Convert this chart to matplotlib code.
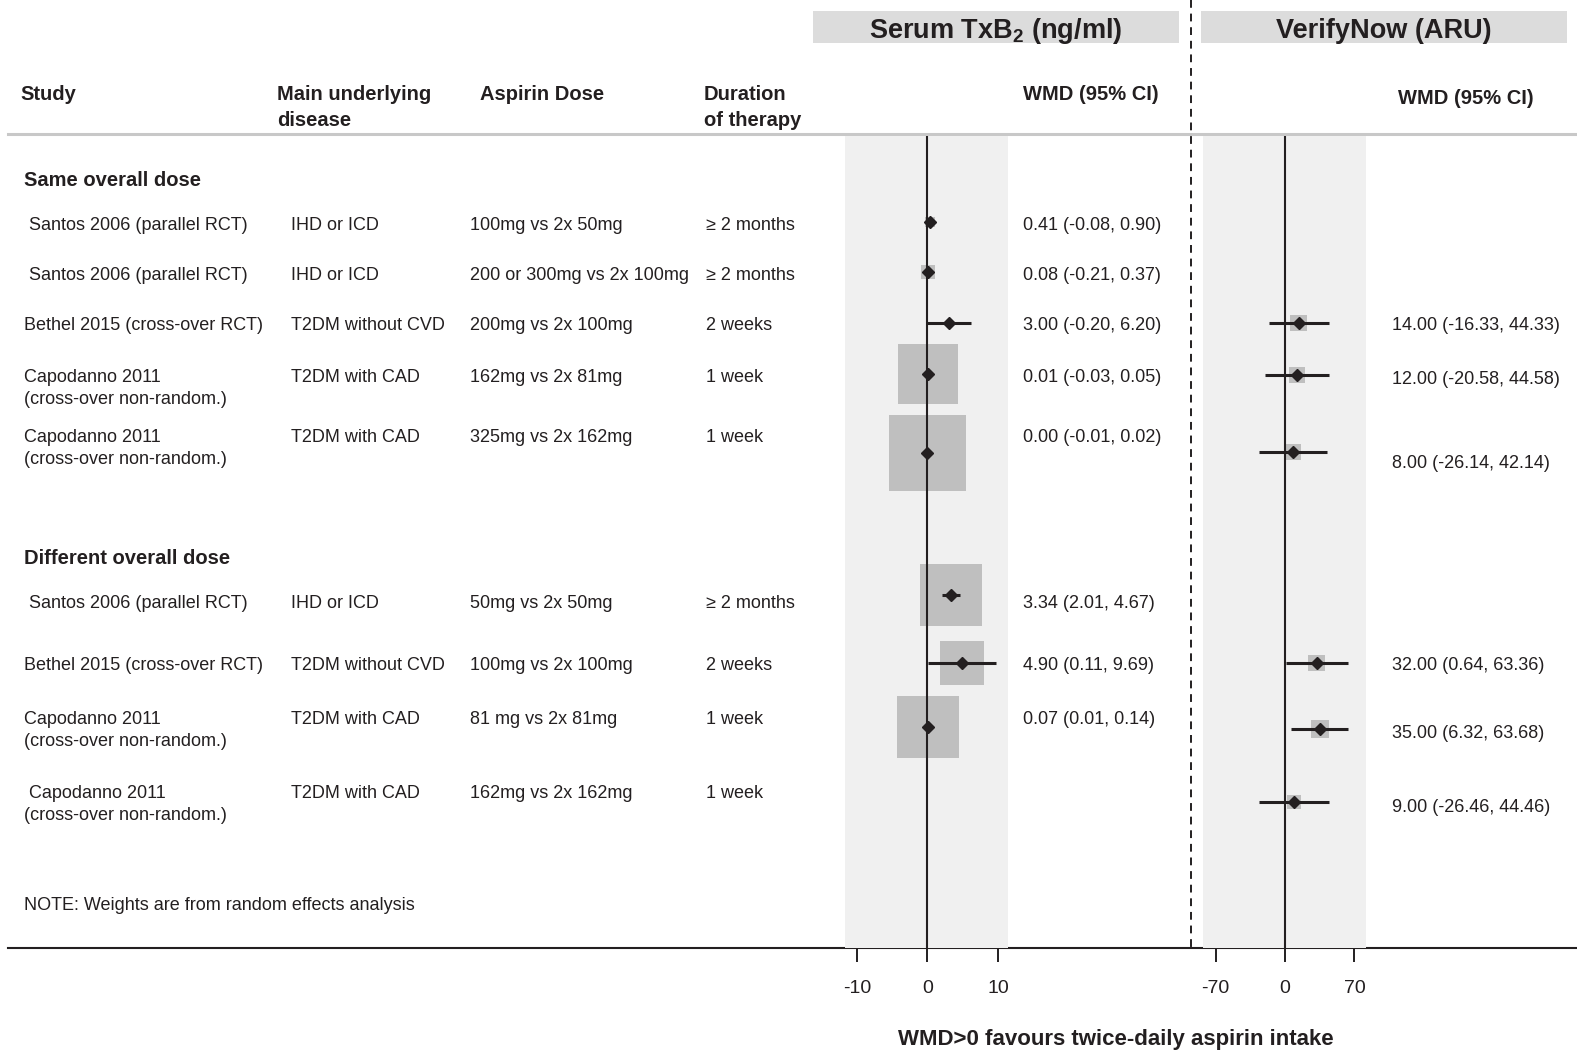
import numpy as np
import matplotlib.pyplot as plt
from matplotlib.patches import Rectangle

plt.rcParams['font.family'] = ['Liberation Sans', 'DejaVu Sans']
plt.rcParams['mathtext.fontset'] = 'custom'
plt.rcParams['mathtext.rm'] = 'Liberation Sans'
plt.rcParams['mathtext.bf'] = 'Liberation Sans:bold'

nan = np.nan

# table columns (9 comparisons: 5 same overall dose, 4 different overall dose)
studies = [" Santos 2006 (parallel RCT)", " Santos 2006 (parallel RCT)",
           "Bethel 2015 (cross-over RCT)",
           "Capodanno 2011\n(cross-over non-random.)", "Capodanno 2011\n(cross-over non-random.)",
           " Santos 2006 (parallel RCT)", "Bethel 2015 (cross-over RCT)",
           "Capodanno 2011\n(cross-over non-random.)", " Capodanno 2011\n(cross-over non-random.)"]
diseases = ["IHD or ICD", "IHD or ICD", "T2DM without CVD", "T2DM with CAD", "T2DM with CAD",
            "IHD or ICD", "T2DM without CVD", "T2DM with CAD", "T2DM with CAD"]
doses = ["100mg vs 2x 50mg", "200 or 300mg vs 2x 100mg", "200mg vs 2x 100mg",
         "162mg vs 2x 81mg", "325mg vs 2x 162mg",
         "50mg vs 2x 50mg", "100mg vs 2x 100mg", "81 mg vs 2x 81mg", "162mg vs 2x 162mg"]
durations = ["≥ 2 months", "≥ 2 months", "2 weeks", "1 week", "1 week",
             "≥ 2 months", "2 weeks", "1 week", "1 week"]
groups = ["Same overall dose", "Different overall dose"]

# serum TxB2 (ng/ml)
txb_wmd = np.array([0.41, 0.08, 3.00, 0.01, 0.00, 3.34, 4.90, 0.07, nan])
txb_lo = np.array([-0.08, -0.21, -0.20, -0.03, -0.01, 2.01, 0.11, 0.01, nan])
txb_hi = np.array([0.90, 0.37, 6.20, 0.05, 0.02, 4.67, 9.69, 0.14, nan])
txb_weight = np.array([1.0, 2.0, 0.1, 36.6, 60.3, 39.1, 20.6, 40.3, nan])

# VerifyNow (ARU)
aru_wmd = np.array([nan, nan, 14.00, 12.00, 8.00, nan, 32.00, 35.00, 9.00])
aru_lo = np.array([nan, nan, -16.33, -20.58, -26.14, nan, 0.64, 6.32, -26.46])
aru_hi = np.array([nan, nan, 44.33, 44.58, 42.14, nan, 63.36, 63.68, 44.46])
aru_weight = np.array([nan, nan, 36.0, 32.0, 32.0, nan, 34.5, 38.7, 26.8])

# ---- layout (pixel coordinates, y downwards) ----
W, H = 1577, 1050
INK = '#231f20'
BODY, HEAD, TITLE = 13, 14.5, 19.5
DY = 3  # va='center' sits a little high, nudge text down
row_y = np.array([222, 272, 323, 375, 435, 600, 663, 716, 791])
group_y = [177, 556]
LINE = 22
txb_mark_y = np.array([222, 272, 323, 374, 453, 595, 663, 727, nan])
txb_text_y = np.array([222, 272, 323, 375, 435, 600, 663, 716, nan])
aru_mark_y = np.array([nan, nan, 323, 375, 452, nan, 663, 729, 802])
aru_text_y = np.array([nan, nan, 323, 377, 460, nan, 663, 731, 804])
TOP, BOTTOM = 136, 948

fig = plt.figure(figsize=(W / 100, H / 100), dpi=100)
bg = fig.add_axes([0, 0, 1, 1])
bg.set_xlim(0, W)
bg.set_ylim(H, 0)
bg.axis('off')


def px_axes(x0, x1):
    return fig.add_axes([x0 / W, 1 - BOTTOM / H, (x1 - x0) / W, (BOTTOM - TOP) / H])


def put(x, y, s, size=BODY, bold=False, ha='left'):
    for i, line in enumerate(s.split('\n')):
        bg.text(x, y + i * LINE + DY, line, fontsize=size, ha=ha, va='center', color=INK,
                fontweight='bold' if bold else 'normal')


# header boxes and titles
bg.add_patch(Rectangle((813, 11), 366, 32, color='#dcdcdc', lw=0))
bg.add_patch(Rectangle((1201, 11), 366, 32, color='#dcdcdc', lw=0))
bg.text(996, 28 + DY, r"Serum TxB$_{\mathbf{2}}$ (ng/ml)", fontsize=TITLE, fontweight='bold',
        ha='center', va='center', color=INK)
bg.text(1384, 28 + DY, "VerifyNow (ARU)", fontsize=TITLE, fontweight='bold',
        ha='center', va='center', color=INK)

# column headers
put(20, 92, "Study", HEAD, True)
put(277, 92, "Main underlying", HEAD, True)
put(277, 117, "disease", HEAD, True)
put(480, 92, "Aspirin Dose", HEAD, True)
put(704, 92, "Duration", HEAD, True)
put(704, 117, "of therapy", HEAD, True)
put(1159, 92, "WMD (95% CI)", HEAD, True, ha='right')
put(1534, 95, "WMD (95% CI)", HEAD, True, ha='right')

bg.plot([8, W], [134, 134], color='#c8c8c8', lw=2.2)
bg.plot([8, W], [BOTTOM, BOTTOM], color=INK, lw=1.5)
bg.plot([1191, 1191], [0, BOTTOM], color=INK, lw=1.4, ls=(0, (4, 3)))

# table rows
for gy, g in zip(group_y, groups):
    put(24, gy, g, HEAD, True)
for i in range(len(studies)):
    put(24, row_y[i], studies[i])
    put(291, row_y[i], diseases[i])
    put(470, row_y[i], doses[i])
    put(706, row_y[i], durations[i])
put(24, 902, "NOTE: Weights are from random effects analysis")
bg.text(1116, 1036 + DY, "WMD>0 favours twice-daily aspirin intake", fontsize=16,
        fontweight='bold', ha='center', va='center', color=INK)


def forest(ax, wmd, lo, hi, weight, ys, k, xlim, ticks):
    ax.set_facecolor('#f0f0f0')
    ax.set_xlim(*xlim)
    ax.set_ylim(BOTTOM, TOP)
    ok = ~np.isnan(wmd)
    side = k * np.sqrt(weight[ok]) * 0.72
    ax.scatter(wmd[ok], ys[ok], s=side ** 2, marker='s', color='#bfbfbf', lw=0, zorder=1)
    ax.axvline(0, color=INK, lw=1.5, zorder=2)
    ax.hlines(ys[ok], lo[ok], hi[ok], color=INK, lw=2.2, zorder=3)
    ax.plot(wmd[ok], ys[ok], 'D', ms=6.5, color=INK, zorder=4)
    for s in ax.spines.values():
        s.set_visible(False)
    ax.set_yticks([])
    ax.set_xticks(ticks)
    ax.set_xticklabels([str(t) for t in ticks])
    ax.tick_params(axis='x', direction='out', length=10, width=1.4, color=INK,
                   labelsize=14, labelcolor=INK, pad=13)


ax1 = px_axes(845, 1008)
forest(ax1, txb_wmd, txb_lo, txb_hi, txb_weight, txb_mark_y, 9.9, (-11.7, 11.42), [-10, 0, 10])
ax2 = px_axes(1203, 1366)
forest(ax2, aru_wmd, aru_lo, aru_hi, aru_weight, aru_mark_y, 2.83, (-82.6, 81.6), [-70, 0, 70])

for i in range(len(txb_wmd)):
    if not np.isnan(txb_wmd[i]):
        put(1023, txb_text_y[i], f"{txb_wmd[i]:.2f} ({txb_lo[i]:.2f}, {txb_hi[i]:.2f})")
    if not np.isnan(aru_wmd[i]):
        put(1392, aru_text_y[i], f"{aru_wmd[i]:.2f} ({aru_lo[i]:.2f}, {aru_hi[i]:.2f})")

fig.savefig('out.png', dpi=100)
